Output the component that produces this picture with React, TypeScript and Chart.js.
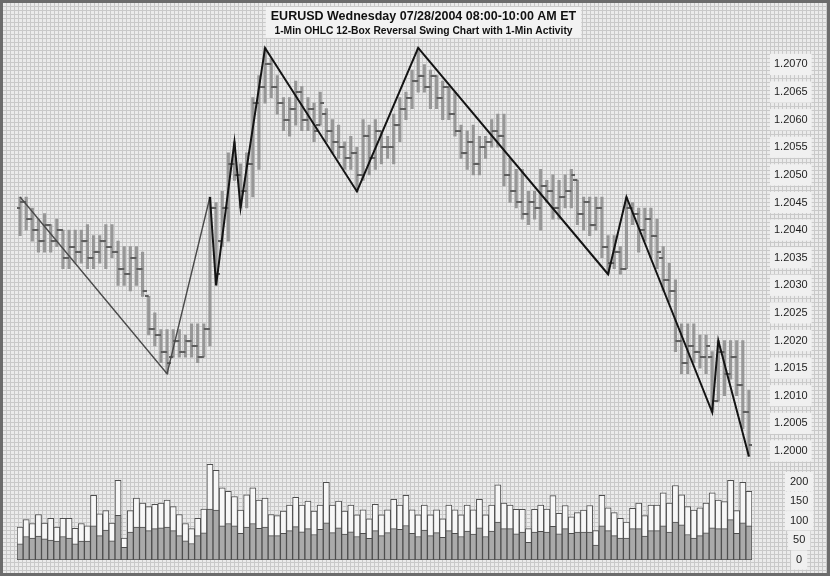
import React, { useEffect, useRef } from 'react';
import { Chart, registerables } from 'chart.js';

Chart.register(...registerables);

const TITLE = 'EURUSD Wednesday 07/28/2004 08:00-10:00 AM ET';
const SUBTITLE = '1-Min OHLC 12-Box Reversal Swing Chart with 1-Min Activity';

// one bar per minute, 08:00 ... 09:59 (index = minutes after 08:00)
const barHigh = [
  1.2046, 1.2046, 1.2044, 1.2042, 1.2043, 1.2041, 1.2042, 1.2040, 1.2040, 1.2040,
  1.2040, 1.2041, 1.2039, 1.2039, 1.2041, 1.2041, 1.2038, 1.2037, 1.2037, 1.2037,
  1.2036, 1.2028, 1.2025, 1.2022, 1.2022, 1.2022, 1.2022, 1.2021, 1.2023, 1.2023,
  1.2023, 1.2046, 1.2045, 1.2047, 1.2054, 1.2056, 1.2052, 1.2054, 1.2064, 1.2068,
  1.2073, 1.2071, 1.2068, 1.2064, 1.2064, 1.2067, 1.2066, 1.2064, 1.2063, 1.2065,
  1.2062, 1.2060, 1.2059, 1.2056, 1.2057, 1.2055, 1.2060, 1.2059, 1.2060, 1.2058,
  1.2057, 1.2061, 1.2064, 1.2065, 1.2069, 1.2073, 1.2070, 1.2069, 1.2068, 1.2067,
  1.2066, 1.2065, 1.2059, 1.2058, 1.2059, 1.2057, 1.2057, 1.2060, 1.2061, 1.2061,
  1.2053, 1.2051, 1.2051, 1.2047, 1.2047, 1.2051, 1.2049, 1.2050, 1.2049, 1.2050,
  1.2051, 1.2049, 1.2046, 1.2046, 1.2046, 1.2046, 1.2039, 1.2039, 1.2037, 1.2046,
  1.2045, 1.2044, 1.2044, 1.2044, 1.2042, 1.2037, 1.2034, 1.2031, 1.2023, 1.2023,
  1.2023, 1.2021, 1.2021, 1.2018, 1.2020, 1.2020, 1.2020, 1.2020, 1.2020, 1.2011,
];
const barLow = [
  1.2039, 1.2040, 1.2038, 1.2036, 1.2036, 1.2036, 1.2037, 1.2033, 1.2033, 1.2034,
  1.2034, 1.2033, 1.2033, 1.2034, 1.2033, 1.2035, 1.2030, 1.2030, 1.2029, 1.2030,
  1.2028, 1.2021, 1.2019, 1.2016, 1.2014, 1.2017, 1.2017, 1.2017, 1.2017, 1.2016,
  1.2017, 1.2019, 1.2030, 1.2037, 1.2038, 1.2049, 1.2044, 1.2044, 1.2046, 1.2051,
  1.2063, 1.2064, 1.2061, 1.2058, 1.2057, 1.2059, 1.2058, 1.2058, 1.2056, 1.2059,
  1.2056, 1.2054, 1.2053, 1.2051, 1.2051, 1.2047, 1.2049, 1.2050, 1.2051, 1.2052,
  1.2053, 1.2052, 1.2056, 1.2060, 1.2062, 1.2065, 1.2065, 1.2062, 1.2062, 1.2060,
  1.2060, 1.2057, 1.2053, 1.2051, 1.2050, 1.2050, 1.2053, 1.2055, 1.2055, 1.2048,
  1.2045, 1.2044, 1.2042, 1.2041, 1.2042, 1.2040, 1.2045, 1.2042, 1.2042, 1.2044,
  1.2044, 1.2041, 1.2040, 1.2039, 1.2040, 1.2035, 1.2032, 1.2033, 1.2032, 1.2033,
  1.2041, 1.2036, 1.2038, 1.2035, 1.2033, 1.2029, 1.2027, 1.2018, 1.2014, 1.2014,
  1.2016, 1.2015, 1.2014, 1.2007, 1.2009, 1.2010, 1.2013, 1.2010, 1.2004, 1.1999,
];
const barOpen = [
  1.2044, 1.2045, 1.2042, 1.2040, 1.2038, 1.2041, 1.2038, 1.2040, 1.2035, 1.2037,
  1.2036, 1.2038, 1.2035, 1.2036, 1.2038, 1.2037, 1.2036, 1.2033, 1.2032, 1.2035,
  1.2033, 1.2028, 1.2022, 1.2021, 1.2018, 1.2017, 1.2020, 1.2018, 1.2020, 1.2019,
  1.2017, 1.2022, 1.2044, 1.2038, 1.2044, 1.2052, 1.2050, 1.2047, 1.2052, 1.2063,
  1.2066, 1.2070, 1.2066, 1.2063, 1.2060, 1.2062, 1.2065, 1.2060, 1.2062, 1.2059,
  1.2061, 1.2058, 1.2056, 1.2055, 1.2053, 1.2054, 1.2050, 1.2057, 1.2053, 1.2058,
  1.2055, 1.2055, 1.2059, 1.2062, 1.2064, 1.2067, 1.2068, 1.2066, 1.2068, 1.2064,
  1.2066, 1.2061, 1.2058, 1.2054, 1.2056, 1.2052, 1.2055, 1.2056, 1.2058, 1.2057,
  1.2050, 1.2047, 1.2045, 1.2043, 1.2045, 1.2044, 1.2048, 1.2047, 1.2044, 1.2046,
  1.2047, 1.2049, 1.2043, 1.2045, 1.2041, 1.2044, 1.2037, 1.2034, 1.2036, 1.2033,
  1.2044, 1.2043, 1.2040, 1.2042, 1.2039, 1.2035, 1.2031, 1.2029, 1.2020, 1.2016,
  1.2019, 1.2018, 1.2017, 1.2017, 1.2009, 1.2018, 1.2014, 1.2017, 1.2012, 1.2007,
];
const barClose = [
  1.2045, 1.2042, 1.2040, 1.2038, 1.2041, 1.2038, 1.2040, 1.2035, 1.2037, 1.2036,
  1.2038, 1.2035, 1.2036, 1.2038, 1.2037, 1.2036, 1.2033, 1.2032, 1.2035, 1.2033,
  1.2029, 1.2022, 1.2021, 1.2018, 1.2016, 1.2020, 1.2018, 1.2020, 1.2019, 1.2017,
  1.2022, 1.2044, 1.2032, 1.2044, 1.2052, 1.2050, 1.2047, 1.2052, 1.2063, 1.2066,
  1.2070, 1.2066, 1.2063, 1.2060, 1.2062, 1.2065, 1.2060, 1.2062, 1.2058, 1.2063,
  1.2058, 1.2056, 1.2055, 1.2053, 1.2054, 1.2050, 1.2057, 1.2053, 1.2058, 1.2055,
  1.2055, 1.2059, 1.2062, 1.2064, 1.2067, 1.2068, 1.2066, 1.2068, 1.2064, 1.2066,
  1.2061, 1.2058, 1.2054, 1.2056, 1.2052, 1.2055, 1.2056, 1.2058, 1.2057, 1.2050,
  1.2047, 1.2045, 1.2043, 1.2045, 1.2044, 1.2048, 1.2047, 1.2044, 1.2046, 1.2047,
  1.2050, 1.2043, 1.2045, 1.2041, 1.2044, 1.2037, 1.2034, 1.2036, 1.2033, 1.2044,
  1.2043, 1.2040, 1.2042, 1.2039, 1.2036, 1.2031, 1.2029, 1.2020, 1.2016, 1.2019,
  1.2018, 1.2017, 1.2019, 1.2009, 1.2018, 1.2014, 1.2017, 1.2012, 1.2007, 1.2001,
];

// 1-minute activity: total (white) and the shaded part
const volTotal = [
  84, 103, 93, 116, 94, 106, 84, 106, 106, 81,
  93, 87, 165, 118, 126, 94, 203, 56, 126, 158,
  145, 136, 142, 145, 153, 136, 116, 93, 80, 106,
  130, 244, 229, 184, 175, 162, 127, 166, 184, 153,
  158, 116, 113, 125, 140, 160, 140, 150, 125, 140,
  198, 140, 150, 125, 140, 115, 128, 105, 142, 115,
  128, 155, 140, 165, 128, 115, 140, 115, 128, 105,
  140, 128, 115, 140, 128, 155, 115, 140, 192, 145,
  140, 129, 129, 80, 129, 140, 130, 164, 119, 139,
  110, 121, 127, 139, 75, 165, 133, 121, 106, 97,
  132, 145, 113, 140, 140, 171, 145, 190, 166, 136,
  127, 133, 145, 171, 153, 149, 203, 126, 198, 175,
];
const volPart = [
  41, 60, 56, 61, 54, 51, 48, 60, 56, 41,
  48, 48, 87, 62, 76, 49, 114, 32, 71, 84,
  84, 75, 80, 82, 84, 75, 62, 49, 42, 62,
  69, 130, 127, 87, 93, 87, 68, 84, 93, 81,
  84, 62, 62, 68, 75, 85, 72, 80, 65, 78,
  95, 70, 82, 66, 72, 60, 68, 55, 75, 62,
  70, 80, 78, 88, 68, 60, 76, 62, 70, 58,
  75, 68, 60, 74, 66, 82, 60, 74, 97, 80,
  80, 67, 71, 45, 71, 73, 71, 86, 67, 80,
  68, 71, 71, 71, 38, 87, 75, 62, 56, 56,
  80, 80, 61, 75, 75, 87, 71, 97, 90, 65,
  56, 62, 69, 82, 80, 80, 103, 68, 95, 87,
];

// 12-box reversal swing points
const swingBar = [0, 24, 31, 32, 35, 36, 40, 55, 65, 96, 99, 113, 114, 119];
const swingPrice = [1.2046, 1.2014, 1.2046, 1.2030, 1.2056, 1.2044, 1.2073, 1.2047, 1.2073, 1.2032, 1.2046, 1.2007, 1.2020, 1.1999];

const priceTicks = [1.2000, 1.2005, 1.2010, 1.2015, 1.2020, 1.2025, 1.2030, 1.2035, 1.2040, 1.2045, 1.2050, 1.2055, 1.2060, 1.2065, 1.2070];
const volumeTicks = [0, 50, 100, 150, 200];

const FONT = "'Liberation Sans', Arial, Helvetica, sans-serif";

export default function App() {
  const ref = useRef<HTMLCanvasElement>(null);

  useEffect(() => {
    const canvas = ref.current;
    if (!canvas) return;

    const mkTick = (left: boolean) => {
      const c = document.createElement('canvas');
      c.width = 8;
      c.height = 2;
      const g = c.getContext('2d')!;
      g.fillStyle = '#5e5e5e';
      g.fillRect(left ? 0 : 4, 0, 4, 2);
      return c;
    };
    const openImg = mkTick(true);
    const closeImg = mkTick(false);

    const paper = {
      id: 'paper',
      beforeDraw(chart: any) {
        const { ctx, width, height } = chart;
        ctx.save();
        ctx.fillStyle = '#ebebeb';
        ctx.fillRect(0, 0, width, height);
        ctx.fillStyle = '#c9c9c9';
        for (let x = 2; x < width; x += 4) ctx.fillRect(x, 0, 1, height);
        for (let y = 2; y < height; y += 4) ctx.fillRect(0, y, width, 1);
        const tb = chart.titleBlock;
        if (tb) {
          ctx.font = `bold 12.5px ${FONT}`;
          const w1 = ctx.measureText(TITLE).width;
          ctx.font = `bold 10.3px ${FONT}`;
          const w2 = ctx.measureText(SUBTITLE).width;
          const w = Math.max(w1, w2) + 10;
          const cx = (tb.left + tb.right) / 2;
          ctx.fillStyle = '#f2f2f2';
          ctx.fillRect(cx - w / 2, tb.top + 7, w, chart.chartArea.top - tb.top - 6);
        }
        ctx.restore();
      },
      afterDraw(chart: any) {
        const { ctx, width, height } = chart;
        ctx.save();
        ctx.strokeStyle = '#6c6c6c';
        ctx.lineWidth = 3;
        ctx.strokeRect(1.5, 1.5, width - 3, height - 3);
        ctx.restore();
      },
    };

    const fitAxis = (s: any) => {
      s.width = 78;
      s.paddingTop = 0;
      s.paddingBottom = 0;
    };

    const chart = new Chart(canvas, {
      type: 'bar',
      data: {
        datasets: [
          {
            type: 'line',
            label: 'swing',
            data: swingBar.map((b, i) => ({ x: b, y: swingPrice[i] })),
            yAxisID: 'y',
            borderColor: '#141414',
            borderWidth: 2,
            pointRadius: 0,
            tension: 0,
            order: 0,
            segment: {
              borderColor: (c: any) => (c.p0DataIndex < 2 ? '#4a4a4a' : undefined),
              borderWidth: (c: any) => (c.p0DataIndex < 2 ? 1.4 : undefined),
            },
          } as any,
          {
            type: 'line',
            label: 'open',
            data: barOpen.map((v, i) => ({ x: i, y: v })),
            yAxisID: 'y',
            showLine: false,
            pointStyle: openImg,
            pointRadius: 3,
            order: 1,
          } as any,
          {
            type: 'line',
            label: 'close',
            data: barClose.map((v, i) => ({ x: i, y: v })),
            yAxisID: 'y',
            showLine: false,
            pointStyle: closeImg,
            pointRadius: 3,
            order: 1,
          } as any,
          {
            type: 'bar',
            label: 'range',
            data: barLow.map((l, i) => ({ x: i, y: [l, barHigh[i]] })),
            yAxisID: 'y',
            backgroundColor: '#979797',
            barThickness: 2.5,
            grouped: false,
            order: 2,
          } as any,
          {
            type: 'bar',
            label: 'part',
            data: volPart.map((v, i) => ({ x: i, y: v })),
            yAxisID: 'yv',
            backgroundColor: '#aaaaaa',
            borderColor: '#4e4e4e',
            borderWidth: 1,
            borderSkipped: false,
            barPercentage: 1,
            categoryPercentage: 1,
            grouped: false,
            order: 3,
          } as any,
          {
            type: 'bar',
            label: 'total',
            data: volTotal.map((v, i) => ({ x: i, y: v })),
            yAxisID: 'yv',
            backgroundColor: '#f7f7f7',
            borderColor: '#4e4e4e',
            borderWidth: 1,
            borderSkipped: false,
            barPercentage: 1,
            categoryPercentage: 1,
            grouped: false,
            order: 4,
          } as any,
        ],
      },
      options: {
        responsive: false,
        animation: false,
        events: [],
        layout: { padding: { left: 17, right: 0, top: 0, bottom: 16 } },
        font: { family: FONT },
        plugins: {
          legend: { display: false },
          tooltip: { enabled: false },
          title: {
            display: true,
            text: TITLE,
            color: '#111111',
            font: { family: FONT, size: 12.5, weight: 'bold' },
            padding: { top: 9.5, bottom: 0 },
          },
          subtitle: {
            display: true,
            text: SUBTITLE,
            color: '#111111',
            font: { family: FONT, size: 10.3, weight: 'bold' },
            padding: { top: 0, bottom: 0 },
          },
        },
        scales: {
          x: {
            type: 'linear',
            min: -0.5,
            max: 119.5,
            offset: false,
            display: false,
          },
          y: {
            type: 'linear',
            position: 'right',
            stack: 'pane',
            stackWeight: 425,
            min: 1.1998,
            max: 1.2075,
            beginAtZero: false,
            grid: { display: false, drawTicks: false },
            border: { display: false },
            afterBuildTicks: (s: any) => {
              s.ticks = priceTicks.map((v) => ({ value: v }));
            },
            afterFit: fitAxis,
            ticks: {
              autoSkip: false,
              callback: (v: any) => Number(v).toFixed(4),
              crossAlign: 'center',
              padding: 22,
              color: '#1e1e1e',
              font: { family: FONT, size: 11 },
              showLabelBackdrop: true,
              backdropColor: '#f0f0f0',
              backdropPadding: { top: 4, bottom: 4, left: 4, right: 4 },
            },
          } as any,
          yv: {
            type: 'linear',
            position: 'right',
            stack: 'pane',
            stackWeight: 98,
            min: 0,
            max: 250,
            grid: { display: false, drawTicks: false },
            border: { display: false },
            afterBuildTicks: (s: any) => {
              s.ticks = volumeTicks.map((v) => ({ value: v }));
            },
            afterFit: fitAxis,
            ticks: {
              autoSkip: false,
              callback: (v: any) => String(v),
              crossAlign: 'center',
              padding: 38,
              color: '#1e1e1e',
              font: { family: FONT, size: 11 },
              showLabelBackdrop: true,
              backdropColor: '#f0f0f0',
              backdropPadding: { top: 3, bottom: 3, left: 5, right: 5 },
            },
          } as any,
        },
      },
      plugins: [paper],
    } as any);

    return () => chart.destroy();
  }, []);

  return (
    <div style={{ position: 'absolute', left: 0, top: 0, width: 830, height: 576 }}>
      <canvas ref={ref} width={830} height={576} style={{ display: 'block', width: 830, height: 576 }} />
    </div>
  );
}
